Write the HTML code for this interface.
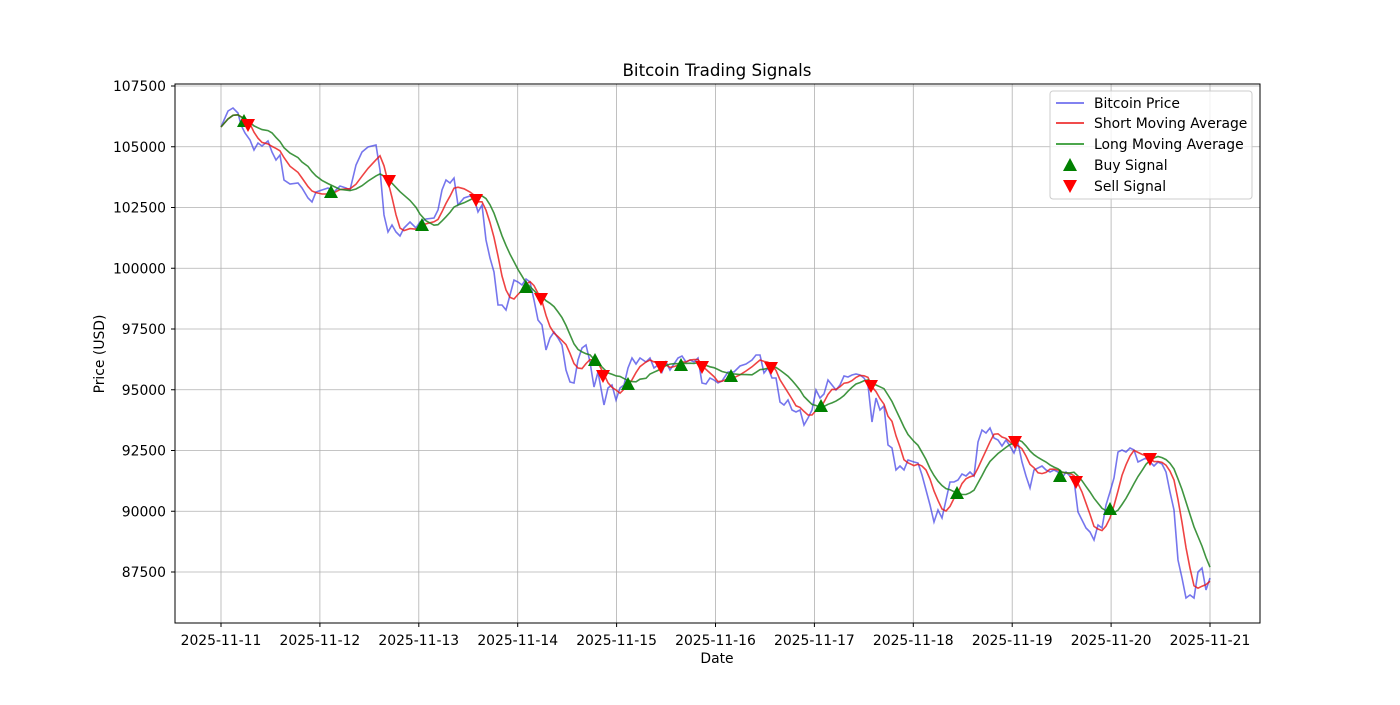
<!DOCTYPE html>
<html><head><meta charset="utf-8"><style>
html,body{margin:0;padding:0;background:#fff;}
svg text{font-family:"DejaVu Sans","Liberation Sans",sans-serif;fill:#000;}
</style></head><body>
<svg id="s" width="1400" height="700" xmlns="http://www.w3.org/2000/svg">
<rect width="1400" height="700" fill="#fff"/>
<g id="grid" stroke="#b0b0b0" stroke-width="0.8"></g>
<g id="ticks" font-size="13.9"></g>
<g id="series" fill="none" stroke-width="1.6"></g>
<g id="markers"></g>
<rect x="175" y="84" width="1085" height="539" fill="none" stroke="#000" stroke-width="1"/>
<text x="717" y="76" font-size="16.7" text-anchor="middle">Bitcoin Trading Signals</text>
<text x="717" y="663" font-size="13.9" text-anchor="middle">Date</text>
<text transform="translate(104,354) rotate(-90)" font-size="13.9" text-anchor="middle">Price (USD)</text>
<g>
<rect x="1050" y="91" width="202" height="108" fill="#fff" fill-opacity="0.8" stroke="#ccc" rx="3"/>
<line x1="1056" y1="103" x2="1084" y2="103" stroke="#7070ee" stroke-width="1.8"/>
<text x="1094" y="108" font-size="13.9">Bitcoin Price</text>
<line x1="1056" y1="123" x2="1084" y2="123" stroke="#ee3333" stroke-width="1.8"/>
<text x="1094" y="128" font-size="13.9">Short Moving Average</text>
<line x1="1056" y1="144" x2="1084" y2="144" stroke="#339933" stroke-width="1.8"/>
<text x="1094" y="149" font-size="13.9">Long Moving Average</text>
<polygon points="1070,158 1077,171 1063,171" fill="green"/>
<text x="1094" y="170" font-size="13.9">Buy Signal</text>
<polygon points="1063,180 1077,180 1070,193" fill="red"/>
<text x="1094" y="191" font-size="13.9">Sell Signal</text>
</g>
</svg>
<script>
var NS="http://www.w3.org/2000/svg";
function el(p,t,a,txt){var e=document.createElementNS(NS,t);for(var k in a)e.setAttribute(k,a[k]);if(txt)e.textContent=txt;document.getElementById(p).appendChild(e);return e;}
var dates=["2025-11-11","2025-11-12","2025-11-13","2025-11-14","2025-11-15","2025-11-16","2025-11-17","2025-11-18","2025-11-19","2025-11-20","2025-11-21"];
for(var i=0;i<11;i++){var x=221+98.9*i;el("grid","line",{x1:x,y1:84,x2:x,y2:623});
el("ticks","line",{x1:x,y1:623,x2:x,y2:627,stroke:"#000"});
el("ticks","text",{x:x,y:645,"text-anchor":"middle"},dates[i]);}
for(var j=0;j<9;j++){var v=87500+2500*j;var y=572-(v-87500)*486/20000;
el("grid","line",{x1:175,y1:y,x2:1260,y2:y});
el("ticks","line",{x1:171,y1:y,x2:175,y2:y,stroke:"#000"});
el("ticks","text",{x:166,y:y+5,"text-anchor":"end"},String(v));}
var d=[221,127,228,111,233,108,238,113,241,125,245,133,250,140,254,150,258,143,262,146,268,141,272,152,276,160,280,155,284,180,290,184,298,183,302,188,308,198,312,202,316,192,322,190,328,188,334,192,340,186,346,188,350,190,356,165,362,152,368,147,376,145,380,170,384,215,388,232,392,225,396,232,400,236,404,228,410,222,416,228,420,222,426,219,434,218,438,210,442,190,446,180,450,183,454,178,458,205,464,198,470,196,474,198,478,212,482,205,486,240,490,258,494,272,498,305,502,305,506,310,510,295,514,280,518,282,522,285,526,279,530,282,534,300,538,320,542,325,546,350,550,338,554,332,558,338,562,345,566,370,570,382,574,383,578,360,582,348,586,345,590,362,594,387,598,372,604,405,608,388,612,385,616,400,620,388,624,385,628,368,632,358,636,364,640,358,646,362,650,358,654,368,658,365,662,372,666,362,670,370,674,364,678,358,682,356,686,362,690,360,694,362,698,358,702,383,706,384,710,378,714,380,718,383,722,381,728,372,734,372,740,366,746,364,752,360,756,355,760,355,764,373,768,368,772,378,776,378,780,402,784,405,788,400,792,410,796,412,800,410,804,425,808,418,812,410,816,390,820,398,824,394,828,380,832,385,836,390,840,385,844,376,848,377,852,375,856,374,860,375,864,378,868,385,872,422,876,398,880,410,884,406,888,445,892,448,896,470,900,466,904,470,908,460,914,462,918,463,922,475,926,490,930,505,934,522,938,510,942,518,946,500,950,482,954,482,958,480,962,474,966,476,970,472,974,476,978,442,982,430,986,433,990,428,994,438,998,440,1002,446,1006,440,1010,446,1014,453,1018,443,1022,462,1026,476,1030,488,1034,470,1038,468,1042,466,1046,470,1050,472,1054,470,1058,472,1062,478,1066,472,1070,476,1074,480,1078,512,1082,520,1086,528,1090,532,1094,540,1098,525,1102,528,1106,505,1110,492,1114,478,1118,452,1122,450,1126,452,1130,448,1134,450,1138,462,1142,460,1146,458,1150,462,1154,466,1158,462,1162,464,1166,472,1170,492,1174,510,1178,560,1182,578,1186,598,1190,595,1194,598,1198,572,1202,568,1206,590,1210,578];
var xs=[],ys=[];for(var k=0;k<d.length;k+=2){xs.push(d[k]);ys.push(d[k+1]);}
function ma(w){var r=[];for(var i=0;i<ys.length;i++){var s=0,n=0;for(var j=Math.max(0,i-w+1);j<=i;j++){s+=ys[j];n++;}r.push(s/n);}return r;}
function pl(arr,c){var p=[];for(var i=0;i<xs.length;i++)p.push(xs[i]+","+arr[i].toFixed(1));el("series","polyline",{points:p.join(" "),stroke:c});}
pl(ys,"rgba(60,60,230,0.7)");pl(ma(5),"rgba(235,20,20,0.8)");pl(ma(11),"rgba(30,130,30,0.85)");
var buy=[[244,121],[331,192],[422,225],[526,287],[595,360],[628,384],[681,365],[731,376],[821,406],[957,493],[1060,476],[1110,509]];
var sell=[[248,125],[389,181],[476,200],[541,299],[603,376],[661,367],[702,367],[771,368],[871,386],[1015,442],[1076,482],[1150,459]];
buy.forEach(function(b){el("markers","polygon",{points:(b[0])+","+(b[1]-7)+" "+(b[0]+7)+","+(b[1]+6)+" "+(b[0]-7)+","+(b[1]+6),fill:"green"});});
sell.forEach(function(b){el("markers","polygon",{points:(b[0]-7)+","+(b[1]-6)+" "+(b[0]+7)+","+(b[1]-6)+" "+(b[0])+","+(b[1]+7),fill:"red"});});
</script>
</body></html>
